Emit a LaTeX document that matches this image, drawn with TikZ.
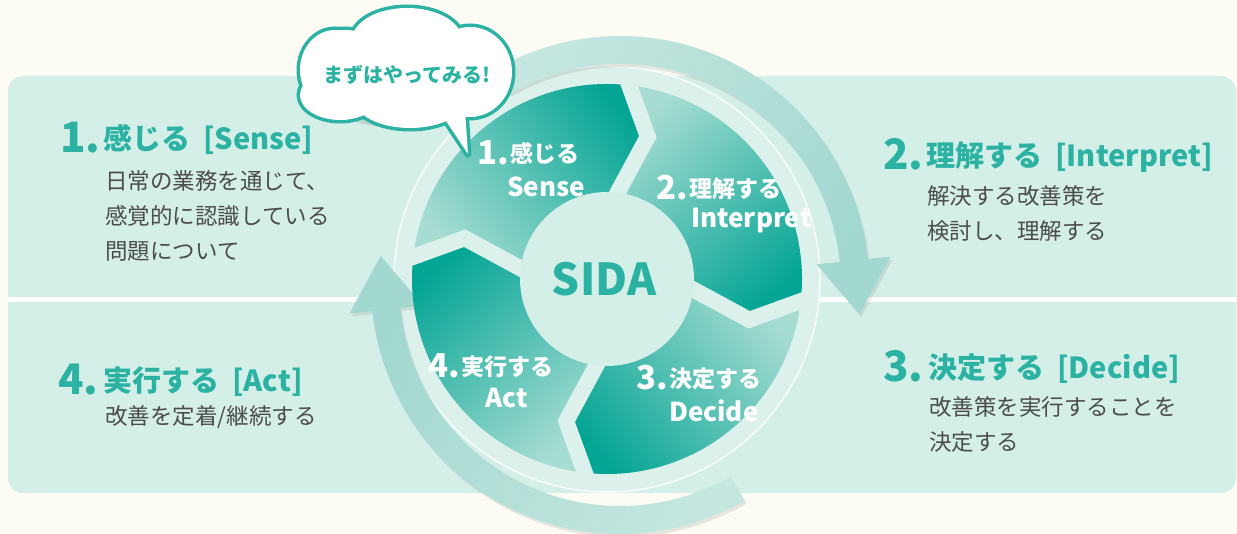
\documentclass[tikz,border=0pt]{standalone}
\usepackage{fontspec}
\setmainfont{Noto Sans CJK JP}
\usetikzlibrary{calc,shadows}

\definecolor{bgcream}{HTML}{FCFCF5}
\definecolor{panelmint}{HTML}{D4EFE8}
\definecolor{diskmint}{HTML}{DCF1EC}
\definecolor{ringmint}{HTML}{A2D8CF}
\definecolor{tealdark}{HTML}{05A595}
\definecolor{teallight}{HTML}{A6DCD2}
\definecolor{headteal}{HTML}{2BB2A2}
\definecolor{bodygray}{HTML}{4C4C4C}

\tikzset{
  bignum/.style={anchor=base west, inner sep=0pt, text=headteal,
    font=\fontsize{42}{44}\selectfont\bfseries},
  heading/.style={anchor=base west, inner sep=0pt, text=headteal,
    font=\fontsize{29}{31}\selectfont\bfseries},
  bodytext/.style={anchor=base west, inner sep=0pt, text=bodygray,
    font=\fontsize{22.5}{24}\selectfont},
  segnum/.style={anchor=base west, inner sep=0pt, text=white,
    font=\fontsize{33}{35}\selectfont\bfseries},
  segjp/.style={anchor=base west, inner sep=0pt, text=white,
    font=\fontsize{23}{25}\selectfont\bfseries},
  segen/.style={anchor=base west, inner sep=0pt, text=white,
    font=\fontsize{26}{28}\selectfont\bfseries},
  ringarrow/.style={top color=ringmint, middle color=ringmint,
    bottom color=ringmint!40!diskmint,
    drop shadow={opacity=0.18, shadow xshift=2pt, shadow yshift=-3pt}},
  cloudedge/.style={draw=headteal, line width=7pt, line join=round},
}

\begin{document}
\begin{tikzpicture}[x=1pt,y=1pt]
  \useasboundingbox (0,0) rectangle (1237,534);
  \fill[bgcream] (0,0) rectangle (1237,534);
  % panels
  \fill[panelmint, rounded corners=15pt] (8,41) rectangle (1236,458);
  \draw[white, line width=5pt] (8,234) -- (1236,234);

  \coordinate (C) at (607,255);
  \coordinate (A) at (620,249);

  % light disk under the cycle
  \fill[diskmint] (C) circle (214);
  \draw[white, line width=1.2pt] (C) circle (213);

  % ring arrows
  \path[ringarrow, shading angle=-117]
    ($(A)+(120:249)$) arc[start angle=120, end angle=6, radius=249]
    -- ($(A)+(6:272)$) -- ($(A)+(6:235)+(-84:54)$) -- ($(A)+(6:198)$)
    -- ($(A)+(6:221)$) arc[start angle=6, end angle=120, radius=221] -- cycle;
  \path[ringarrow, shading angle=63]
    ($(A)+(-60:249)$) arc[start angle=-60, end angle=-174, radius=249]
    -- ($(A)+(-174:272)$) -- ($(A)+(-174:235)+(96:54)$) -- ($(A)+(-174:198)$)
    -- ($(A)+(-174:221)$) arc[start angle=-174, end angle=-60, radius=221] -- cycle;

  % four chevron segments
  \foreach \i in {0,...,3}{
    \pgfmathsetmacro\a{175-90*\i}
    \pgfmathsetmacro\b{85-90*\i}
    \pgfmathsetmacro\at{\a-11}
    \pgfmathsetmacro\bt{\b-11}
    \pgfmathsetmacro\s{-50-90*\i}
    \shade[top color=tealdark, bottom color=teallight, shading angle=\s]
      ($(C)+(\a:195)$) arc[start angle=\a, end angle=\b, radius=195]
      -- ($(C)+(\bt:148)$) -- ($(C)+(\b:86)$)
      arc[start angle=\b, end angle=\a, radius=86]
      -- ($(C)+(\at:148)$) -- cycle;
  }
  \foreach \g in {175,85,-5,-95}{
    \pgfmathsetmacro\gt{\g-11}
    \draw[diskmint, line width=16pt]
      ($(C)+(\g:206)$) -- ($(C)+(\gt:148)$) -- ($(C)+(\g:80)$);
  }

  % centre
  \fill[panelmint] (C) circle (87);
  \node[text=headteal, font=\fontsize{44}{46}\selectfont\bfseries] (sida)
    at ($(C)+(-3,0)$) {SIDA};

  % segment labels
  \node[segnum] (n1) at (477,369) {1.};
  \node[segjp]  (j1) at ($(n1.base east)+(1,2)$) {感じる};
  \node[segen]  (e1) at (507,337) {Sense};
  \node[segnum] (n2) at (656,334) {2.};
  \node[segjp]  (j2) at ($(n2.base east)+(1,2)$) {理解する};
  \node[segen]  (e2) at (691,306) {Interpret};
  \node[segnum] (n3) at (636,144) {3.};
  \node[segjp]  (j3) at ($(n3.base east)+(1,2)$) {決定する};
  \node[segen]  (e3) at (669,112) {Decide};
  \node[segnum] (n4) at (428,156) {4.};
  \node[segjp]  (j4) at ($(n4.base east)+(1,2)$) {実行する};
  \node[segen]  (e4) at (485,126) {Act};

  % left column
  \node[bignum]   (num1) at (60,381) {1.};
  \node[heading]  (head1) at (103,384) {感じる\hspace{0.45em}[Sense]};
  \node[bodytext] (body1a) at (105,344) {日常の業務を通じて、};
  \node[bodytext] (body1b) at (105,309) {感覚的に認識している};
  \node[bodytext] (body1c) at (105,274) {問題について};
  \node[bignum]   (num4) at (58,139) {4.};
  \node[heading]  (head4) at (103,142) {実行する\hspace{0.45em}[Act]};
  \node[bodytext] (body4a) at (105,109) {改善を定着/継続する};

  % right column
  \node[bignum]   (num2) at (883,364) {2.};
  \node[heading]  (head2) at (926,367) {理解する\hspace{0.45em}[Interpret]};
  \node[bodytext] (body2a) at (927,329) {解決する改善策を};
  \node[bodytext] (body2b) at (927,294) {検討し、理解する};
  \node[bignum]   (num3) at (883,152) {3.};
  \node[heading]  (head3) at (928,155) {決定する\hspace{0.45em}[Decide]};
  \node[bodytext] (body3a) at (929,118) {改善策を実行することを};
  \node[bodytext] (body3b) at (929,83) {決定する};

  % speech cloud
  \fill[black, opacity=0.10] (409,455) ellipse[x radius=104, y radius=50];
  \foreach \cx/\cy/\rx/\ry in {405/462/100/45, 407/494/55/32, 335/464/35/40,
      470/462/42/45, 345/482/35/22, 410/434/55/28, 340/439/40/25}{
    \draw[cloudedge] (\cx,\cy) ellipse[x radius=\rx, y radius=\ry];
  }
  \draw[cloudedge] (440,422) -- (468,380) -- (465,424);
  \foreach \cx/\cy/\rx/\ry in {405/462/100/45, 407/494/55/32, 335/464/35/40,
      470/462/42/45, 345/482/35/22, 410/434/55/28, 340/439/40/25}{
    \fill[white] (\cx,\cy) ellipse[x radius=\rx, y radius=\ry];
  }
  \fill[white] (440,422) -- (468,380) -- (465,424) -- cycle;
  \node[text=headteal, font=\fontsize{20}{22}\selectfont\bfseries] (bubble)
    at (407,459) {まずはやってみる!};
\end{tikzpicture}
\end{document}
